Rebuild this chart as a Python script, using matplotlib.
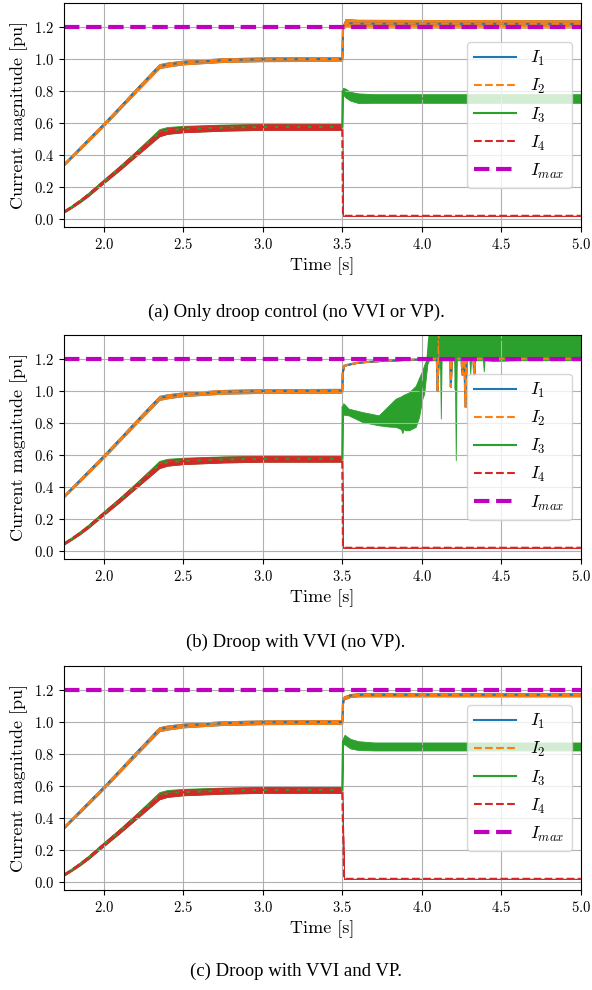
import matplotlib.pyplot as plt
import numpy as np

plt.rcParams['font.family'] = 'cmr10'
plt.rcParams['mathtext.fontset'] = 'cm'
plt.rcParams['axes.formatter.use_mathtext'] = True

# ramp-up before the fault at t = 3.5 s (same for all three runs)
t_ramp = [1.75, 1.8, 1.85, 1.9, 2.0, 2.1, 2.2, 2.35, 2.4, 2.5, 2.75, 3.0, 3.5]
i12_ramp_lo = [0.335, 0.384, 0.432, 0.481, 0.58, 0.684, 0.788, 0.942, 0.952, 0.966, 0.981, 0.986, 0.988]
i12_ramp_hi = [0.345, 0.396, 0.448, 0.499, 0.60, 0.704, 0.812, 0.968, 0.978, 0.99, 1.005, 1.01, 1.012]
i3_ramp_lo = [0.04, 0.071, 0.104, 0.141, 0.224, 0.305, 0.39, 0.517, 0.532, 0.542, 0.552, 0.557, 0.557]
i3_ramp_hi = [0.05, 0.083, 0.12, 0.159, 0.246, 0.331, 0.421, 0.562, 0.575, 0.582, 0.59, 0.594, 0.594]
i4_ramp_lo = [0.04, 0.071, 0.104, 0.141, 0.224, 0.305, 0.39, 0.517, 0.532, 0.542, 0.552, 0.557, 0.557]
i4_ramp_hi = [0.05, 0.083, 0.12, 0.159, 0.246, 0.331, 0.42, 0.553, 0.568, 0.578, 0.588, 0.593, 0.593]

i_max = 1.2

# (a) droop only
t12_a = [3.505, 3.52, 3.6, 5.0]
i12_a_lo = [1.19, 1.2, 1.197, 1.197]
i12_a_hi = [1.21, 1.25, 1.245, 1.242]
t3_a = [3.503, 3.52, 3.55, 3.6, 3.7, 5.0]
i3_a_lo = [0.78, 0.76, 0.74, 0.725, 0.726, 0.726]
i3_a_hi = [0.82, 0.815, 0.795, 0.785, 0.78, 0.78]
t4_a = [3.505, 5.0]
i4_a = [0.02, 0.02]

# (b) droop + VVI
t12_b = [3.502, 3.51, 3.55, 3.6, 3.7, 3.8, 3.9, 4.0, 4.05,
         4.095, 4.1, 4.105, 4.108, 4.112, 4.116,
         4.178, 4.183, 4.188, 4.25, 4.256, 4.262,
         4.268, 4.275, 4.282, 4.325, 4.33, 4.335, 4.4, 5.0]
i12_b = [1.1, 1.155, 1.165, 1.175, 1.183, 1.188, 1.192, 1.196, 1.2,
         1.2, 1.0, 1.2, 1.45, 1.2, 1.2,
         1.2, 1.023, 1.2, 1.2, 1.1, 1.2,
         1.2, 0.9, 1.2, 1.2, 1.1, 1.2, 1.2, 1.2]
t3_b = [3.503, 3.51, 3.54, 3.626, 3.73, 3.794, 3.836, 3.87, 3.878, 3.886,
        3.9, 3.92, 3.962, 3.983, 4.004, 4.015, 4.036, 4.046,
        4.115, 4.12, 4.125, 4.208, 4.214, 4.22, 4.25, 4.255, 4.26,
        4.3, 4.305, 4.31, 4.385, 4.39, 4.395, 4.45, 4.6, 5.0]
i3_b_lo = [0.88, 0.85, 0.846, 0.805, 0.784, 0.776, 0.774, 0.76, 0.735, 0.76,
           0.753, 0.753, 0.774, 0.836, 0.95, 0.98, 1.17, 1.19,
           1.19, 0.826, 1.19, 1.19, 0.566, 1.19, 1.19, 1.1, 1.19,
           1.19, 1.1, 1.19, 1.19, 1.12, 1.19, 1.185, 1.19, 1.19]
i3_b_hi = [0.92, 0.92, 0.888, 0.867, 0.846, 0.909, 0.95, 0.965, 0.97, 0.975,
           0.98, 0.99, 1.03, 1.08, 1.127, 1.16, 1.21, 1.45,
           1.45, 1.45, 1.45, 1.45, 1.45, 1.45, 1.45, 1.45, 1.45,
           1.45, 1.45, 1.45, 1.45, 1.45, 1.45, 1.45, 1.45, 1.45]
t4_b = [3.505, 5.0]
i4_b = [0.02, 0.02]

# (c) droop + VVI + VP
t12_c = [3.505, 3.51, 3.55, 3.6, 5.0]
i12_c_lo = [1.11, 1.14, 1.155, 1.16, 1.16]
i12_c_hi = [1.13, 1.16, 1.175, 1.18, 1.18]
t3_c = [3.505, 3.515, 3.55, 3.6, 3.7, 5.0]
i3_c_lo = [0.86, 0.86, 0.835, 0.825, 0.822, 0.822]
i3_c_hi = [0.9, 0.92, 0.895, 0.88, 0.872, 0.872]
t4_c = [3.512, 5.0]
i4_c = [0.02, 0.02]

captions = ['(a) Only droop control (no VVI or VP).',
            '(b) Droop with VVI (no VP).',
            '(c) Droop with VVI and VP.']


def band(ax, t, lo, hi, color, ls, label):
    # oscillating signal: filled envelope plus the trace itself
    t, lo, hi = np.asarray(t), np.asarray(lo), np.asarray(hi)
    ax.fill_between(t, lo, hi, color=color, lw=0.6)
    ax.plot(t, (lo + hi) / 2, color=color, ls=ls, lw=1.5, label=label)


runs = [
    (t12_a, i12_a_lo, i12_a_hi, t3_a, i3_a_lo, i3_a_hi, t4_a, i4_a),
    (t12_b, i12_b, i12_b, t3_b, i3_b_lo, i3_b_hi, t4_b, i4_b),
    (t12_c, i12_c_lo, i12_c_hi, t3_c, i3_c_lo, i3_c_hi, t4_c, i4_c),
]
rects = [[0.108, 0.7707, 0.873, 0.2263],
         [0.108, 0.4354, 0.873, 0.2266],
         [0.108, 0.1010, 0.873, 0.2263]]
cap_y = [0.685, 0.3515, 0.0192]

fig = plt.figure(figsize=(5.92, 9.9), dpi=100)
for run, rect, cap, cy in zip(runs, rects, captions, cap_y):
    t12, lo12, hi12, t3, lo3, hi3, t4, i4 = run
    ax = fig.add_axes(rect)
    tt12 = t_ramp + t12
    band(ax, tt12, i12_ramp_lo + lo12, i12_ramp_hi + hi12, 'C0', '-', '$I_1$')
    band(ax, tt12, i12_ramp_lo + lo12, i12_ramp_hi + hi12, 'C1', '--', '$I_2$')
    band(ax, t_ramp + t3, i3_ramp_lo + lo3, i3_ramp_hi + hi3, 'C2', '-', '$I_3$')
    band(ax, t_ramp + t4, i4_ramp_lo + i4, i4_ramp_hi + i4, 'C3', '--', '$I_4$')
    ax.axhline(i_max, color='m', ls='--', lw=3, label='$I_{max}$')

    ax.set_xlim(1.75, 5.0)
    ax.set_ylim(-0.05, 1.35)
    ax.set_xticks(np.arange(2.0, 5.01, 0.5))
    ax.set_yticks(np.arange(0.0, 1.21, 0.2))
    ax.tick_params(labelsize=10.5)
    ax.grid(True)
    ax.set_xlabel('Time [s]', fontsize=13)
    ax.set_ylabel('Current magnitude [pu]', fontsize=13)
    ax.legend(loc='center right', fontsize=13, handlelength=2.3)
    fig.text(0.5, cy, cap, ha='center', va='center',
             family='Liberation Serif', fontsize=13.5)

fig.savefig('out.png')
